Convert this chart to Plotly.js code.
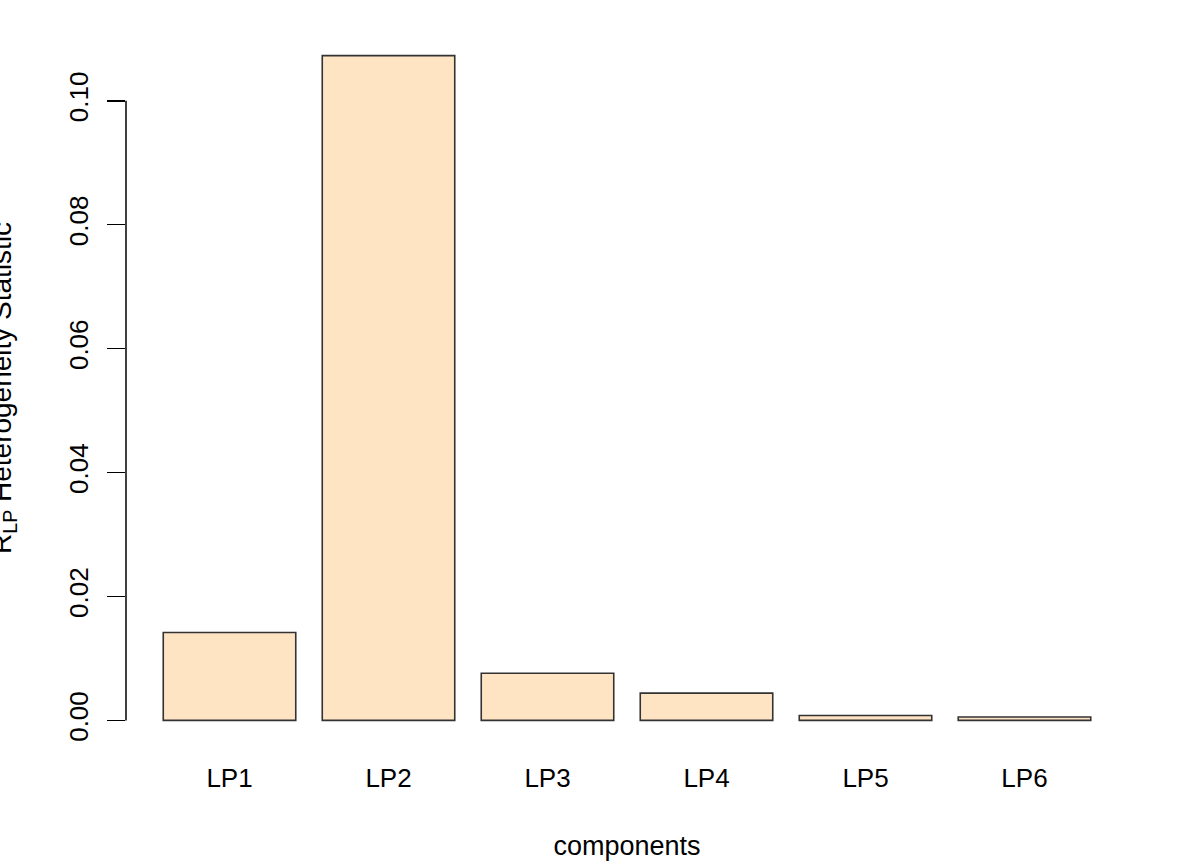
<!DOCTYPE html>
<html>
<head>
<meta charset="utf-8">
<script src="https://cdn.plot.ly/plotly-3.0.1.min.js"></script>
<style>html,body{margin:0;padding:0;background:#fff;}#chart{width:1196px;height:868px;}</style>
</head>
<body>
<div id="chart"></div>
<script>
const categories = ["LP1", "LP2", "LP3", "LP4", "LP5", "LP6"];
const values = [0.0142, 0.1073, 0.0076, 0.0044, 0.0008, 0.00055];
const tickValues = [0, 0.02, 0.04, 0.06, 0.08, 0.10];
const tickLabels = ["0.00", "0.02", "0.04", "0.06", "0.08", "0.10"];

const ymax = Math.max(...values);
const FONT = "Liberation Sans, Arial, Helvetica, sans-serif";

const trace = {
  type: "bar",
  x: categories,
  y: values,
  marker: {color: "#FFE4C4", line: {color: "#333333", width: 1.6}},
  hoverinfo: "x+y"
};

const layout = {
  width: 1196, height: 868,
  margin: {l: 126, r: 68, t: 29, b: 121},
  paper_bgcolor: "#ffffff", plot_bgcolor: "#ffffff",
  showlegend: false,
  bargap: 1/6,
  font: {family: FONT, size: 26, color: "#000"},
  xaxis: {
    type: "category",
    range: [-0.651, categories.length - 1 + 0.651],
    showline: false, showgrid: false, zeroline: false,
    ticks: "", ticklabelstandoff: 13,
    tickfont: {family: FONT, size: 26, color: "#000"},
    title: {text: "components", font: {family: FONT, size: 27, color: "#000"}, standoff: 44}
  },
  yaxis: {
    range: [-0.04 * ymax, 1.04 * ymax],
    showline: false, showgrid: false, zeroline: false,
    tickmode: "array", tickvals: tickValues, ticktext: tickLabels,
    ticks: "outside", ticklen: 18, tickwidth: 1.5, tickcolor: "#000",
    tickangle: -90, ticklabelstandoff: 9,
    tickfont: {family: FONT, size: 26, color: "#000"}
  },
  shapes: [{
    type: "line", xref: "paper", yref: "y",
    x0: 0, x1: 0, y0: tickValues[0], y1: tickValues[tickValues.length - 1],
    line: {color: "#000", width: 1.5}
  }],
  annotations: [{
    xref: "paper", yref: "paper",
    x: -126 / 1002, y: 0.5,
    xshift: 3,
    xanchor: "center", yanchor: "middle",
    textangle: -90,
    showarrow: false,
    text: "R<sub>LP</sub> Heterogeneity Statistic",
    font: {family: FONT, size: 28, color: "#000"}
  }]
};

Plotly.newPlot("chart", [trace], layout, {displayModeBar: false, staticPlot: true});
</script>
</body>
</html>
